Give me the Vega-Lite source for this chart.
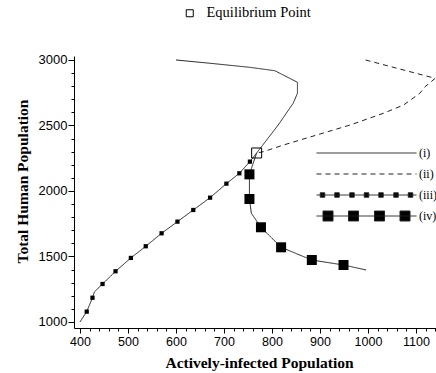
{
  "$schema": "https://vega.github.io/schema/vega-lite/v6.json",
  "width": 362,
  "height": 272,
  "autosize": {"type": "none"},
  "padding": {"left": 74, "top": 56, "right": 0, "bottom": 45},
  "background": "white",
  "config": {"view": {"stroke": null}, "font": "Liberation Serif"},
  "datasets": {
    "paths": [
      {"series": "(i)", "t": 1, "x": 600, "y": 3000},
      {"series": "(i)", "t": 2, "x": 671, "y": 2975},
      {"series": "(i)", "t": 3, "x": 754, "y": 2944},
      {"series": "(i)", "t": 4, "x": 806, "y": 2918},
      {"series": "(i)", "t": 5, "x": 853, "y": 2830},
      {"series": "(i)", "t": 6, "x": 853, "y": 2745},
      {"series": "(i)", "t": 7, "x": 844, "y": 2669},
      {"series": "(i)", "t": 8, "x": 813, "y": 2504},
      {"series": "(i)", "t": 9, "x": 768, "y": 2290},
      {"series": "(ii)", "t": 1, "x": 995, "y": 3000},
      {"series": "(ii)", "t": 2, "x": 1140, "y": 2860},
      {"series": "(ii)", "t": 3, "x": 1119, "y": 2796},
      {"series": "(ii)", "t": 4, "x": 1108, "y": 2746},
      {"series": "(ii)", "t": 5, "x": 1074, "y": 2656},
      {"series": "(ii)", "t": 6, "x": 1032, "y": 2593},
      {"series": "(ii)", "t": 7, "x": 963, "y": 2504},
      {"series": "(ii)", "t": 8, "x": 893, "y": 2427},
      {"series": "(ii)", "t": 9, "x": 824, "y": 2351},
      {"series": "(ii)", "t": 10, "x": 782, "y": 2300},
      {"series": "(ii)", "t": 11, "x": 768, "y": 2290},
      {"series": "(iii)", "t": 1, "x": 400, "y": 1000},
      {"series": "(iii)", "t": 2, "x": 414, "y": 1079},
      {"series": "(iii)", "t": 3, "x": 426, "y": 1185},
      {"series": "(iii)", "t": 4, "x": 430, "y": 1230},
      {"series": "(iii)", "t": 5, "x": 447, "y": 1290},
      {"series": "(iii)", "t": 6, "x": 474, "y": 1387},
      {"series": "(iii)", "t": 7, "x": 506, "y": 1489},
      {"series": "(iii)", "t": 8, "x": 537, "y": 1578},
      {"series": "(iii)", "t": 9, "x": 570, "y": 1677},
      {"series": "(iii)", "t": 10, "x": 603, "y": 1766},
      {"series": "(iii)", "t": 11, "x": 636, "y": 1855},
      {"series": "(iii)", "t": 12, "x": 671, "y": 1949},
      {"series": "(iii)", "t": 13, "x": 705, "y": 2056},
      {"series": "(iii)", "t": 14, "x": 732, "y": 2135},
      {"series": "(iii)", "t": 15, "x": 754, "y": 2224},
      {"series": "(iii)", "t": 16, "x": 768, "y": 2290},
      {"series": "(iv)", "t": 1, "x": 996, "y": 1397},
      {"series": "(iv)", "t": 2, "x": 949, "y": 1435},
      {"series": "(iv)", "t": 3, "x": 883, "y": 1473},
      {"series": "(iv)", "t": 4, "x": 819, "y": 1570},
      {"series": "(iv)", "t": 5, "x": 777, "y": 1723},
      {"series": "(iv)", "t": 6, "x": 757, "y": 1830},
      {"series": "(iv)", "t": 7, "x": 753, "y": 1939},
      {"series": "(iv)", "t": 8, "x": 753, "y": 2127},
      {"series": "(iv)", "t": 9, "x": 768, "y": 2290}
    ],
    "markers": [
      {"series": "(iii)", "x": 414, "y": 1079},
      {"series": "(iii)", "x": 426, "y": 1185},
      {"series": "(iii)", "x": 447, "y": 1290},
      {"series": "(iii)", "x": 474, "y": 1387},
      {"series": "(iii)", "x": 506, "y": 1489},
      {"series": "(iii)", "x": 537, "y": 1578},
      {"series": "(iii)", "x": 570, "y": 1677},
      {"series": "(iii)", "x": 603, "y": 1766},
      {"series": "(iii)", "x": 636, "y": 1855},
      {"series": "(iii)", "x": 671, "y": 1949},
      {"series": "(iii)", "x": 705, "y": 2056},
      {"series": "(iii)", "x": 732, "y": 2135},
      {"series": "(iii)", "x": 754, "y": 2224},
      {"series": "(iv)", "x": 949, "y": 1435},
      {"series": "(iv)", "x": 883, "y": 1473},
      {"series": "(iv)", "x": 819, "y": 1570},
      {"series": "(iv)", "x": 777, "y": 1723},
      {"series": "(iv)", "x": 753, "y": 1939},
      {"series": "(iv)", "x": 753, "y": 2127}
    ],
    "equilibrium": [
      {"label": "Equilibrium Point", "x": 768, "y": 2290}
    ]
  },
  "resolve": {"axis": {"x": "independent", "y": "independent"}},
  "layer": [
    {
      "data": {"name": "paths"},
      "mark": {"type": "line", "color": "#222", "strokeWidth": 1, "clip": true},
      "encoding": {
        "x": {
          "field": "x", "type": "quantitative",
          "title": "Actively-infected Population",
          "scale": {"domain": [387.5, 1141.7], "nice": false, "zero": false},
          "axis": {
            "orient": "bottom",
            "values": [400, 500, 600, 700, 800, 900, 1000, 1100],
            "format": "d",
            "tickSize": 5,
            "grid": false,
            "domainColor": "black", "tickColor": "black",
            "labelFont": "Liberation Sans", "labelFontSize": 12.5, "labelColor": "black",
            "labelPadding": 2, "labelOverlap": false, "labelFlush": false,
            "titleFont": "Liberation Serif", "titleFontSize": 15.5, "titleFontWeight": "bold", "titleColor": "black",
            "titleX": 185, "titleAlign": "center", "titleY": 39, "titleBaseline": "alphabetic"
          }
        },
        "y": {
          "field": "y", "type": "quantitative",
          "title": "Total Human Population",
          "scale": {"domain": [954, 3030.5], "nice": false, "zero": false},
          "axis": {
            "orient": "left",
            "values": [1000, 1500, 2000, 2500, 3000],
            "format": "d",
            "tickSize": 6,
            "grid": false,
            "domainColor": "black", "tickColor": "black",
            "labelFont": "Liberation Sans", "labelFontSize": 13, "labelColor": "black",
            "labelPadding": 1, "labelOverlap": false, "labelFlush": false,
            "titleFont": "Liberation Serif", "titleFontSize": 15.5, "titleFontWeight": "bold", "titleColor": "black",
            "titleX": -52, "titleY": 125, "titleAngle": 270, "titleAlign": "center", "titleBaseline": "middle"
          }
        },
        "order": {"field": "t", "type": "quantitative"},
        "strokeDash": {
          "field": "series", "type": "nominal",
          "scale": {"domain": ["(i)", "(ii)", "(iii)", "(iv)"], "range": [[1, 0], [5, 4], [1, 0], [1, 0]]},
          "legend": {
            "orient": "none", "legendX": 242, "legendY": 87.5,
            "title": null,
            "symbolSize": 10000,
            "clipHeight": 19,
            "rowPadding": 2,
            "labelOffset": 2,
            "labelFont": "Liberation Serif", "labelFontSize": 12, "labelColor": "black",
            "symbolStrokeWidth": 1, "symbolStrokeColor": "#222",
            "encode": {
              "symbols": {
                "update": {
                  "shape": {"signal": "datum.value === '(iii)' ? 'M-1,0H1M-0.925,-0.045h0.09v0.09h-0.09zM-0.635,-0.045h0.09v0.09h-0.09zM-0.335,-0.045h0.09v0.09h-0.09zM-0.045,-0.045h0.09v0.09h-0.09zM0.245,-0.045h0.09v0.09h-0.09zM0.545,-0.045h0.09v0.09h-0.09zM0.835,-0.045h0.09v0.09h-0.09z' : datum.value === '(iv)' ? 'M-1,0H1M-0.87,-0.1h0.2v0.2h-0.2zM-0.36,-0.1h0.2v0.2h-0.2zM0.16,-0.1h0.2v0.2h-0.2zM0.67,-0.1h0.2v0.2h-0.2z' : 'M-1,0H1'"},
                  "fill": {"value": "black"},
                  "stroke": {"value": "#222"}
                }
              }
            }
          }
        }
      }
    },
    {
      "data": {"name": "markers"},
      "mark": {"type": "point", "shape": "square", "filled": true, "color": "black", "opacity": 1, "clip": true},
      "encoding": {
        "x": {
          "field": "x", "type": "quantitative",
          "axis": {
            "orient": "bottom",
            "values": [400,420,440,460,480,500,520,540,560,580,600,620,640,660,680,700,720,740,760,780,800,820,840,860,880,900,920,940,960,980,1000,1020,1040,1060,1080,1100,1120,1140],
            "labels": false, "domain": false, "grid": false, "title": null,
            "tickSize": 3, "tickColor": "black"
          }
        },
        "y": {
          "field": "y", "type": "quantitative",
          "axis": {
            "orient": "left",
            "values": [1000,1100,1200,1300,1400,1500,1600,1700,1800,1900,2000,2100,2200,2300,2400,2500,2600,2700,2800,2900,3000],
            "labels": false, "domain": false, "grid": false, "title": null,
            "tickSize": 3, "tickColor": "black"
          }
        },
        "size": {
          "field": "series", "type": "nominal",
          "scale": {"domain": ["(iii)", "(iv)"], "range": [18, 100]},
          "legend": null
        }
      }
    },
    {
      "data": {"name": "equilibrium"},
      "mark": {"type": "point", "filled": false, "color": "black", "strokeWidth": 1, "size": 100, "opacity": 1},
      "encoding": {
        "x": {"field": "x", "type": "quantitative", "axis": null},
        "y": {"field": "y", "type": "quantitative", "axis": null},
        "shape": {
          "field": "label", "type": "nominal",
          "scale": {"range": ["square"]},
          "legend": {
            "orient": "none", "legendX": 108.5, "legendY": -50,
            "title": null,
            "symbolSize": 49,
            "symbolStrokeColor": "black", "symbolStrokeWidth": 1,
            "labelOffset": 9.5,
            "labelFont": "Liberation Serif", "labelFontSize": 14.5, "labelColor": "black"
          }
        }
      }
    }
  ]
}
